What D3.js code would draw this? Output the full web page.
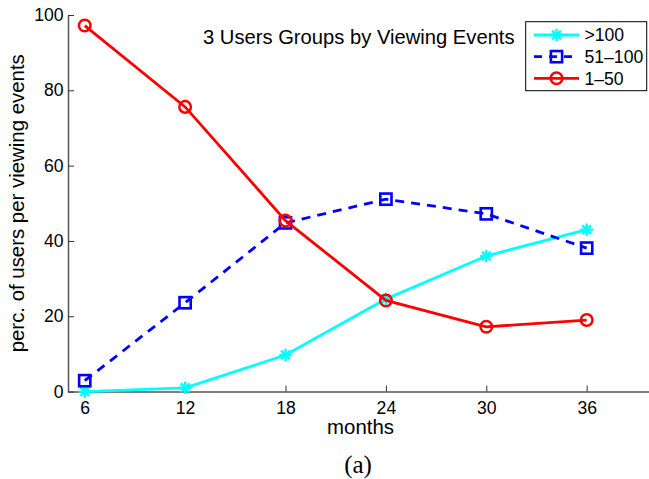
<!DOCTYPE html>
<html>
<head>
<meta charset="utf-8">
<script src="https://cdn.jsdelivr.net/npm/d3@7"></script>
<style>
  html, body { margin: 0; padding: 0; background: #fff; }
  svg { display: block; }
  text { font-family: "Liberation Sans", Arial, Helvetica, sans-serif; }
</style>
</head>
<body>
<svg id="chart" width="649" height="479"></svg>
<script>
// Viewing-event user groups over time (percentage of users per group)
const months = [6, 12, 18, 24, 30, 36];
const over100 = [0, 1, 9.7, 24.6, 36, 43];
const from51to100 = [2.9, 23.6, 44.8, 51.1, 47.2, 38.1];
const from1to50 = [97.2, 75.6, 45.4, 24.2, 17.2, 19];

const xTicks = [6, 12, 18, 24, 30, 36];
const yTicks = [0, 20, 40, 60, 80, 100];
const groupNames = [">100", "51–100", "1–50"];

const series = [
  { name: groupNames[0], values: over100, color: "#00ffff", dash: null, marker: "star" },
  { name: groupNames[1], values: from51to100, color: "#0000ff", dash: "9,7", marker: "square" },
  { name: groupNames[2], values: from1to50, color: "#ff0000", dash: null, marker: "circle" }
];

const svg = d3.select("#chart");

const x = d3.scaleLinear().domain([5, 40]).range([68, 653.6]);
const y = d3.scaleLinear().domain([0, 100]).range([391.6, 15]);

// Axes: ticks point inward, gray axis lines
const xAxis = svg.append("g")
  .attr("transform", `translate(0,${y(0)})`)
  .call(d3.axisBottom(x).tickValues(xTicks).tickSizeInner(-6).tickSizeOuter(0).tickPadding(9.5));
const yAxis = svg.append("g")
  .attr("transform", `translate(${x(5)},0)`)
  .call(d3.axisLeft(y).tickValues(yTicks).tickSizeInner(-6).tickSizeOuter(0).tickPadding(4.5));

[xAxis, yAxis].forEach(g => {
  g.select(".domain").attr("stroke", "#555").attr("stroke-width", 1.5);
  g.selectAll(".tick line").attr("stroke", "#333").attr("stroke-width", 1);
  g.selectAll(".tick text").attr("fill", "#000").style("font-size", "17.6px")
    .style("font-family", '"Liberation Sans", Arial, sans-serif');
});

// Axis titles
svg.append("text")
  .attr("x", 360.5).attr("y", 434)
  .attr("text-anchor", "middle")
  .style("font-size", "20.4px")
  .text("months");

svg.append("text")
  .attr("transform", `translate(24,${(y(0) + y(100)) / 2}) rotate(-90)`)
  .attr("text-anchor", "middle")
  .style("font-size", "20.4px")
  .text("perc. of users per viewing events");

svg.append("text")
  .attr("x", 203).attr("y", 44.3)
  .style("font-size", "20.2px")
  .text("3 Users Groups by Viewing Events");

svg.append("text")
  .attr("x", 358).attr("y", 473)
  .attr("text-anchor", "middle")
  .style("font-family", '"Liberation Serif", "Times New Roman", serif')
  .style("font-size", "25px")
  .text("(a)");

// Marker drawing
function drawMarker(g, type, cx, cy, color) {
  if (type === "circle") {
    g.append("circle").attr("cx", cx).attr("cy", cy).attr("r", 5.8)
      .attr("fill", "none").attr("stroke", color).attr("stroke-width", 2.5);
  } else if (type === "square") {
    g.append("rect").attr("x", cx - 5.6).attr("y", cy - 5.6)
      .attr("width", 11.2).attr("height", 11.2)
      .attr("fill", "none").attr("stroke", color).attr("stroke-width", 2.6);
  } else {
    const r = 6.2, d = r * Math.SQRT1_2;
    const segs = [[0, -r, 0, r], [-r, 0, r, 0], [-d, -d, d, d], [-d, d, d, -d]];
    segs.forEach(s => g.append("line")
      .attr("x1", cx + s[0]).attr("y1", cy + s[1])
      .attr("x2", cx + s[2]).attr("y2", cy + s[3])
      .attr("stroke", color).attr("stroke-width", 2.4));
  }
}

const line = d3.line().x(d => x(d[0])).y(d => y(d[1]));

series.forEach(s => {
  const g = svg.append("g");
  const pts = months.map((m, i) => [m, s.values[i]]);
  g.append("path")
    .attr("d", line(pts))
    .attr("fill", "none")
    .attr("stroke", s.color)
    .attr("stroke-width", 2.8)
    .attr("stroke-dasharray", s.dash);
  pts.forEach(p => drawMarker(g, s.marker, x(p[0]), y(p[1]), s.color));
});

// Legend
const legend = svg.append("g");
legend.append("rect")
  .attr("x", 525.7).attr("y", 21.7).attr("width", 121).attr("height", 69)
  .attr("fill", "#fff").attr("stroke", "#000").attr("stroke-width", 1);

series.forEach((s, i) => {
  const cy = 35 + i * 21.65;
  legend.append("line")
    .attr("x1", 534).attr("x2", 579).attr("y1", cy).attr("y2", cy)
    .attr("stroke", s.color).attr("stroke-width", 2.8)
    .attr("stroke-dasharray", s.dash ? "8,7" : null);
  drawMarker(legend, s.marker, 556.5, cy, s.color);
  legend.append("text")
    .attr("x", 584.5).attr("y", cy).attr("dy", "0.36em")
    .style("font-size", "17.6px")
    .text(s.name);
});
</script>
</body>
</html>
